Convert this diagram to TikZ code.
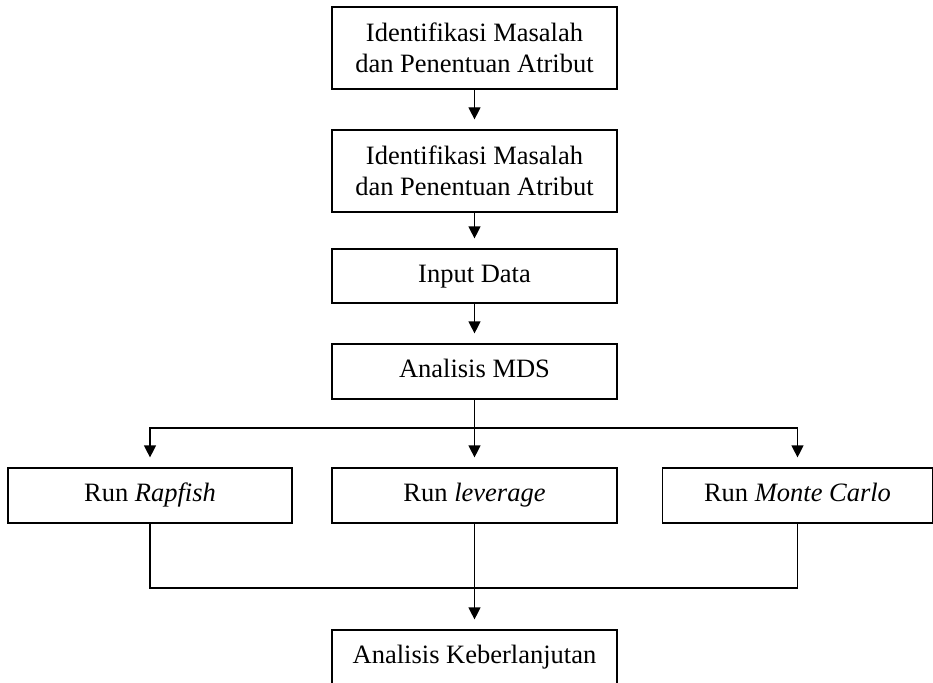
\documentclass[tikz,border=0pt]{standalone}
\usepackage{fontspec}
\setmainfont{Liberation Serif}
\usetikzlibrary{arrows.meta}

\begin{document}
\begin{tikzpicture}[x=1pt,y=1pt,line width=1.2pt,
	box/.style={draw,rectangle,minimum width=285pt,minimum height=55pt,inner sep=0pt,align=center,font=\fontsize{26.5}{31}\selectfont},
	line/.style={box,text height=18pt,text depth=6pt},
	arr/.style={->,>={Triangle[length=12pt,width=12pt]},shorten >=10pt}]
	\useasboundingbox (0,0) rectangle (933,-682);
	\node[box,minimum height=82pt] (ident1)at(474.5,-48) {Identifikasi Masalah\\dan Penentuan Atribut};
	\node[box,minimum height=82pt] (ident2)at(474.5,-171) {Identifikasi Masalah\\dan Penentuan Atribut};
	\node[line,minimum height=54pt] (input)at(474.5,-276) {Input Data};
	\node[line] (mds)at(474.5,-371.5) {Analisis MDS};
	\node[line,minimum width=284pt] (rapfish)at(150,-495.5) {Run \textit{Rapfish}};
	\node[line] (leverage)at(474.5,-495.5) {Run \textit{leverage}};
	\node[line,minimum width=270pt] (monte)at(797.5,-495.5) {Run \textit{Monte Carlo}};
	\node[line] (keber)at(474.5,-657.5) {Analisis Keberlanjutan};
	\coordinate (split)at(474.5,-428);
	\coordinate (join)at(474.5,-588);
	\draw[arr] (ident1) -- (ident2);
	\draw[arr] (ident2) -- (input);
	\draw[arr] (input) -- (mds);
	\draw[arr] (mds) -- (leverage);
	\draw[arr] (split) -| (rapfish);
	\draw[arr] (split) -| (monte);
	\draw (rapfish) |- (join) -| (monte);
	\draw[arr] (leverage) -- (keber);
\end{tikzpicture}
\end{document}
